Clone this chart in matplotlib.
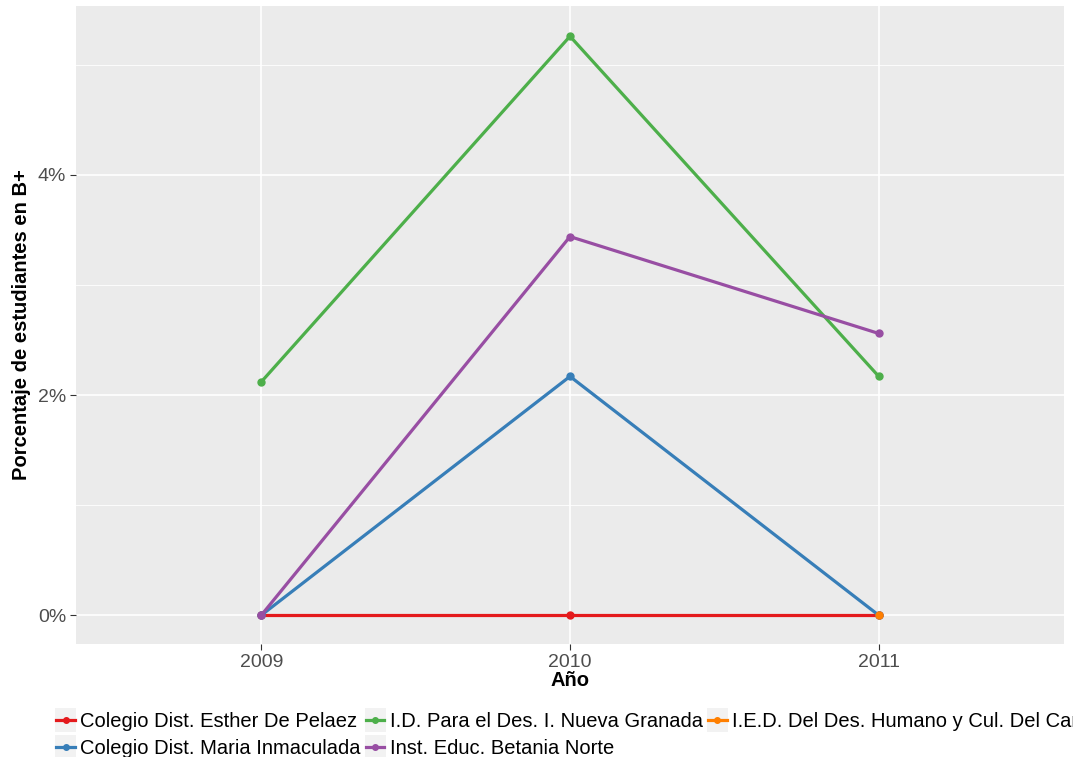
import matplotlib
matplotlib.use("Agg")
import matplotlib.pyplot as plt
from matplotlib.lines import Line2D
from matplotlib.patches import Rectangle
from matplotlib.legend_handler import HandlerBase
import numpy as np

plt.rcParams['font.family'] = ['Liberation Sans', 'DejaVu Sans']

years = [2009, 2010, 2011]
series_names = [
    "Colegio Dist. Esther De Pelaez",
    "Colegio Dist. Maria Inmaculada",
    "I.D. Para el Des. I. Nueva Granada",
    "Inst. Educ. Betania Norte",
    "I.E.D. Del Des. Humano y Cul. Del Campo",
]
esther = [0.0, 0.0, 0.0]
maria = [0.0, 2.17, 0.0]
nueva_granada = [2.12, 5.26, 2.17]
betania = [0.0, 3.44, 2.56]
campo = [np.nan, np.nan, 0.0]
colors = ["#E41A1C", "#377EB8", "#4DAF4A", "#984EA3", "#FF7F00"]
yticks = [0, 2, 4]
ytick_labels = ["0%", "2%", "4%"]

W, H = 1073, 757
fig = plt.figure(figsize=(W / 100, H / 100), dpi=100)
ax = fig.add_axes([76 / W, 1 - 644 / H, (1064 - 76) / W, (644 - 6) / H])
ax.set_facecolor("#EBEBEB")
for s in ax.spines.values():
    s.set_visible(False)

data = [esther, maria, nueva_granada, betania, campo]
for name, vals, c in zip(series_names, data, colors):
    ax.plot(years, vals, color=c, lw=2.3, marker="o", ms=5, solid_capstyle="butt", zorder=3, label=name)

ax.set_xlim(2008.4, 2011.6)
ax.set_ylim(-0.261, 5.535)
ax.set_xticks(years)
ax.set_xticklabels([str(y) for y in years])
ax.set_yticks(yticks)
ax.set_yticklabels(ytick_labels)
ax.set_yticks([1, 3, 5], minor=True)
ax.grid(True, which="major", color="white", lw=1.2, zorder=0)
ax.grid(True, which="minor", axis="y", color="white", lw=0.6, zorder=0)
ax.set_axisbelow(True)
ax.tick_params(axis="both", which="major", colors="#333333", length=4, width=0.8, labelsize=14, labelcolor="#4D4D4D", pad=3)
ax.tick_params(axis="both", which="minor", length=0)

ax.set_xlabel("Año", fontsize=14.5, fontweight="bold", labelpad=0)
ax.set_ylabel("Porcentaje de estudiantes en B+", fontsize=14.5, fontweight="bold", labelpad=5)


class KeyHandler(HandlerBase):
    def create_artists(self, legend, orig_handle, xdescent, ydescent, width, height, fontsize, trans):
        pad = 3
        rect = Rectangle((-xdescent, -ydescent - pad), width, height + 2 * pad,
                         facecolor="#F2F2F2", edgecolor="none", transform=trans)
        y = -ydescent + height / 2
        line = Line2D([-xdescent + 1, -xdescent + width - 1], [y, y], color=orig_handle.get_color(),
                      lw=2.3, transform=trans)
        dot = Line2D([-xdescent + width / 2], [y], color=orig_handle.get_color(), marker="o", ms=4,
                     lw=0, transform=trans)
        return [rect, line, dot]


handles = [Line2D([0], [0], color=c) for c in colors]
leg = fig.legend(handles, series_names, ncol=3, loc="upper left",
                 bbox_to_anchor=(55 / W, 1 - 712 / H), frameon=False,
                 fontsize=14.5, handlelength=1.05, handleheight=0.75, handletextpad=0.2,
                 columnspacing=0.2, labelspacing=0.4, borderaxespad=0, borderpad=0,
                 handler_map={Line2D: KeyHandler()})

fig.savefig("out.png", dpi=100)
